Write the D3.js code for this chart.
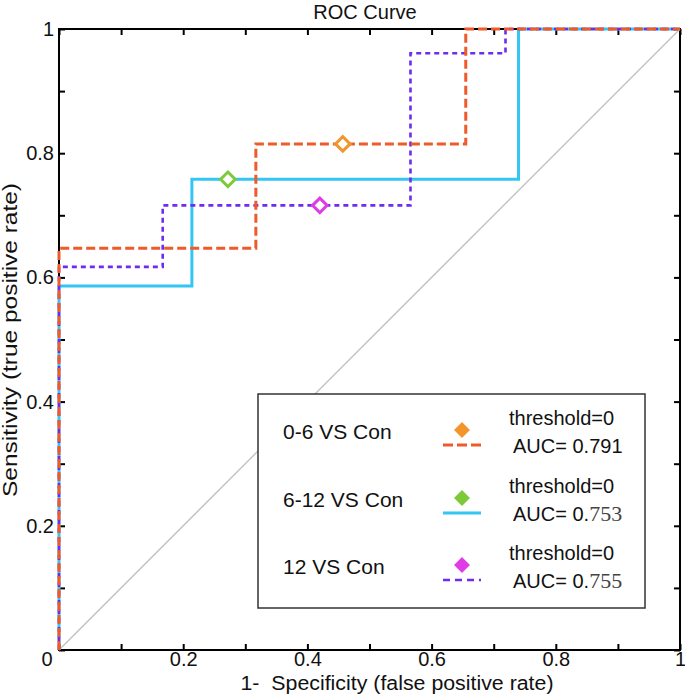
<!DOCTYPE html>
<html><head><meta charset="utf-8">
<script src="https://cdn.jsdelivr.net/npm/d3@7"></script>
<style>
html,body{margin:0;padding:0;background:#fff;}
text{font-family:"Liberation Sans",Arial,sans-serif;fill:#111;}
</style></head>
<body>
<svg id="chart" width="685" height="696"></svg>
<script>
// ---- data ----
const seriesNames = ["0-6 VS Con", "6-12 VS Con", "12 VS Con"];
const fpr_0_6  = [0, 0, 0.317, 0.317, 0.655, 0.655, 1];
const tpr_0_6  = [0, 0.647, 0.647, 0.815, 0.815, 1, 1];
const fpr_6_12 = [0, 0, 0.214, 0.214, 0.740, 0.740, 1];
const tpr_6_12 = [0, 0.586, 0.586, 0.758, 0.758, 1, 1];
const fpr_12   = [0, 0, 0.167, 0.167, 0.566, 0.566, 0.719, 0.719, 1];
const tpr_12   = [0, 0.617, 0.617, 0.716, 0.716, 0.961, 0.961, 1, 1];
const thresholdFpr = [0.457, 0.272, 0.420];
const thresholdTpr = [0.815, 0.758, 0.716];
const aucHead = ["0.791", "0.", "0."];
const aucTail = ["", "753", "755"];
const tickValues = [0, 0.1, 0.2, 0.3, 0.4, 0.5, 0.6, 0.7, 0.8, 0.9, 1];
const labeledTicks = [0.2, 0.4, 0.6, 0.8, 1];

// ---- styles ----
const lineColors = ["#ef5a2a", "#33c6f2", "#6f2bef"];
const markerColors = ["#f0962c", "#7cc93a", "#e03ce6"];
const dashes = ["9,4", null, "5,4"];
const widths = [3, 3, 2.6];

const svg = d3.select("#chart");
const L = 59, R = 680, T = 29, B = 650;
const x = d3.scaleLinear().domain([0, 1]).range([L, R]);
const y = d3.scaleLinear().domain([0, 1]).range([B, T]);

const fmt = d => labeledTicks.some(v => Math.abs(v - d) < 1e-6) ? d3.format("")(+d.toFixed(1)) : "";

// frame
svg.append("rect").attr("x", L).attr("y", T).attr("width", R - L).attr("height", B - T)
  .attr("fill", "none").attr("stroke", "#000").attr("stroke-width", 2);

// axes
const axB = svg.append("g").attr("transform", `translate(0,${B})`)
  .call(d3.axisBottom(x).tickValues(tickValues).tickSize(-6).tickPadding(2).tickFormat(fmt));
const axL = svg.append("g").attr("transform", `translate(${L},0)`)
  .call(d3.axisLeft(y).tickValues(tickValues).tickSize(-6).tickPadding(5).tickFormat(fmt));
const axT = svg.append("g").attr("transform", `translate(0,${T})`)
  .call(d3.axisTop(x).tickValues(tickValues).tickSize(-6).tickFormat(""));
const axR = svg.append("g").attr("transform", `translate(${R},0)`)
  .call(d3.axisRight(y).tickValues(tickValues).tickSize(-6).tickFormat(""));
[axB, axL, axT, axR].forEach(g => {
  g.select(".domain").remove();
  g.selectAll(".tick line").attr("stroke", "#000").attr("stroke-width", 2);
  g.selectAll("text").style("font-family", '"Liberation Sans",Arial,sans-serif')
    .attr("font-size", 20).attr("fill", "#111");
});
// corner zero label
svg.append("text").attr("x", 47).attr("y", 666).attr("text-anchor", "middle")
  .attr("font-size", 20).text(d3.format("")(tickValues[0]));

// diagonal
svg.append("line").attr("x1", x(0)).attr("y1", y(0)).attr("x2", x(1)).attr("y2", y(1))
  .attr("stroke", "#c4c4c4").attr("stroke-width", 1.5);

// curves
const series = [
  d3.zip(fpr_0_6, tpr_0_6),
  d3.zip(fpr_6_12, tpr_6_12),
  d3.zip(fpr_12, tpr_12)
];
const line = d3.line().x(d => x(d[0])).y(d => y(d[1]));
const drawOrder = [1, 2, 0];
drawOrder.forEach(i => {
  svg.append("path").datum(series[i]).attr("d", line)
    .attr("fill", "none").attr("stroke", lineColors[i]).attr("stroke-width", widths[i])
    .attr("stroke-dasharray", dashes[i]);
});

// threshold markers
const diamond = d3.symbol().type(d3.symbolDiamond2).size(135);
seriesNames.forEach((n, i) => {
  svg.append("path").attr("d", diamond)
    .attr("transform", `translate(${x(thresholdFpr[i])},${y(thresholdTpr[i])})`)
    .attr("fill", "#fff").attr("stroke", markerColors[i]).attr("stroke-width", 3);
});

// legend
svg.append("rect").attr("x", 258).attr("y", 394).attr("width", 387).attr("height", 214)
  .attr("fill", "#fff").attr("stroke", "#333").attr("stroke-width", 1.5);
const rowY = [430, 498, 565];
seriesNames.forEach((n, i) => {
  const cy = rowY[i];
  svg.append("text").attr("x", 283).attr("y", cy + 9).attr("font-size", 21).text(n);
  svg.append("path").attr("d", d3.symbol().type(d3.symbolDiamond2).size(110))
    .attr("transform", `translate(462,${cy})`)
    .attr("fill", markerColors[i]).attr("stroke", markerColors[i]).attr("stroke-width", 2);
  svg.append("line").attr("x1", 443).attr("x2", 481).attr("y1", cy + 15).attr("y2", cy + 15)
    .attr("stroke", lineColors[i]).attr("stroke-width", widths[i])
    .attr("stroke-dasharray", i === 0 ? "10,4" : (i === 2 ? "7,5" : null));
  svg.append("text").attr("x", 509).attr("y", cy - 5).attr("font-size", 20).text("threshold=0");
  const t = svg.append("text").attr("x", 513).attr("y", cy + 23).attr("font-size", 20);
  t.append("tspan").text("AUC= " + aucHead[i]);
  if (aucTail[i]) t.append("tspan").style("font-family", '"Liberation Serif","DejaVu Serif",serif')
    .attr("font-size", 22).attr("fill", "#444").text(aucTail[i]);
});

// titles
svg.append("text").attr("x", 365).attr("y", 19).attr("text-anchor", "middle")
  .attr("font-size", 20).text("ROC Curve");
svg.append("text").attr("x", 397).attr("y", 690).attr("text-anchor", "middle")
  .attr("font-size", 20).attr("textLength", 313).attr("lengthAdjust", "spacingAndGlyphs")
  .text("1-\u00A0 Specificity (false positive rate)");
svg.append("text").attr("transform", "translate(17,340) rotate(-90)").attr("text-anchor", "middle")
  .attr("font-size", 20).attr("textLength", 314).attr("lengthAdjust", "spacingAndGlyphs")
  .text("Sensitivity (true positive rate)");
</script>
</body></html>
